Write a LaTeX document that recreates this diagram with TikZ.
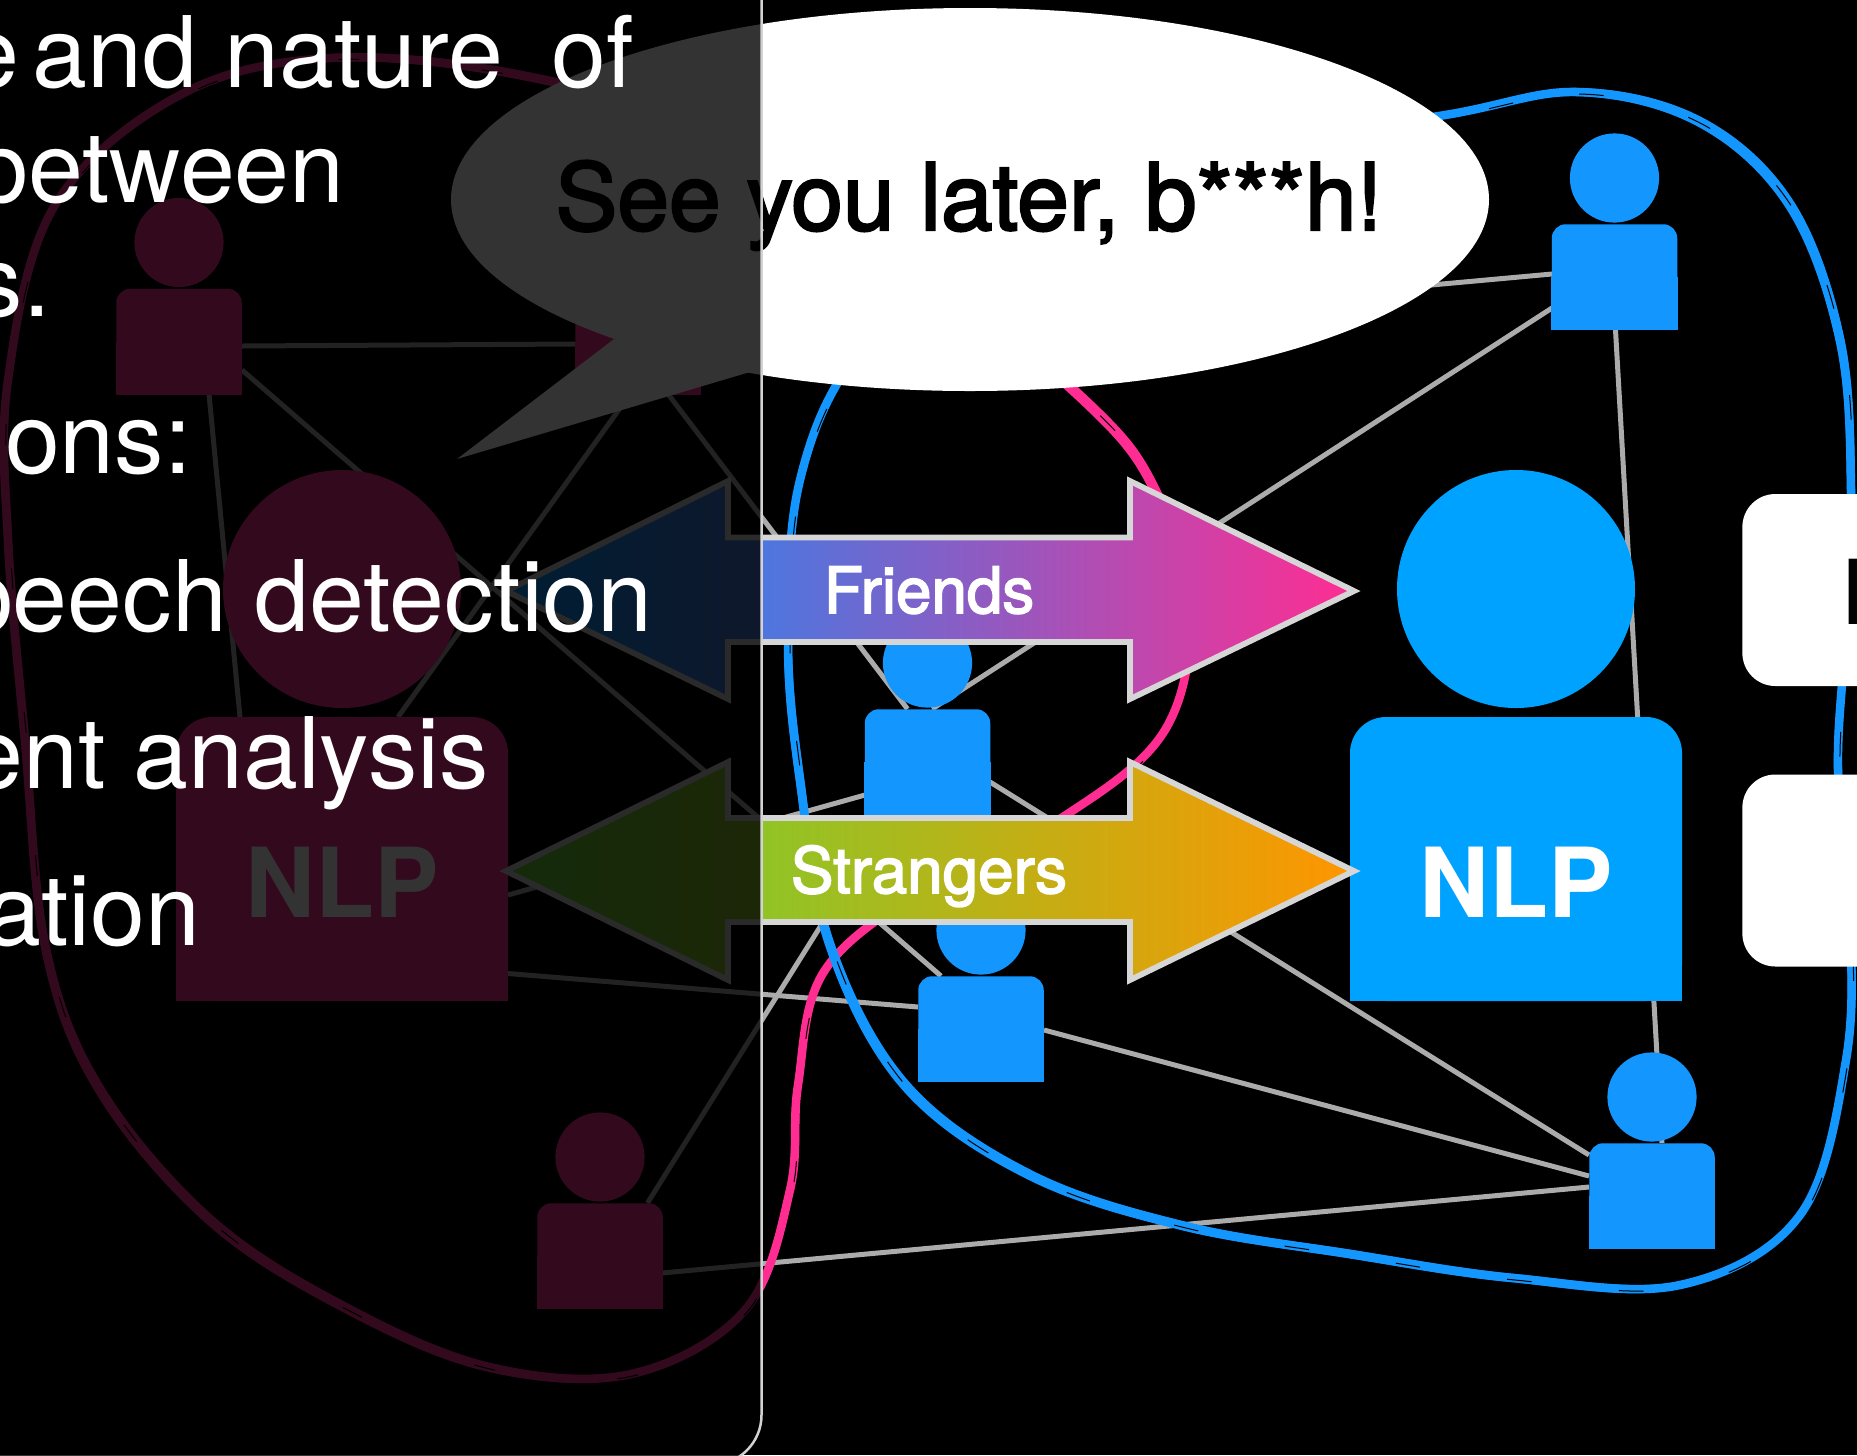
\documentclass[tikz,border=0pt]{standalone}
\usepackage{fontspec}
\setmainfont{TeX Gyre Heros}
\newfontfamily\medfont[FakeBold=2.5]{TeX Gyre Heros}
\usetikzlibrary{shapes.geometric}
\definecolor{pinkc}{HTML}{FF2D92}
\definecolor{smallblue}{HTML}{1496FF}
\definecolor{bigblue}{HTML}{00A2FF}
\definecolor{edgegrey}{HTML}{ABABAB}
\definecolor{arrowline}{HTML}{D6D6D6}
\definecolor{fromblue}{HTML}{0096FF}
\definecolor{fromgreen}{HTML}{61D836}
\definecolor{toorange}{HTML}{FF9500}
\definecolor{paneledge}{HTML}{D2D2D2}
\tikzset{
  headshape/.style={circle,inner sep=0pt,minimum size=89.2*0.02cm},
  bodyshape/.style={rectangle,inner sep=0pt,minimum width=125.5*0.02cm,minimum height=105.5*0.02cm,rounded corners=0.28cm},
  bighead/.style={circle,inner sep=0pt,minimum size=238*0.02cm},
  bigbody/.style={rectangle,inner sep=0pt,minimum width=332*0.02cm,minimum height=284*0.02cm,rounded corners=0.72cm},
  edgeline/.style={draw=edgegrey,line width=0.1cm},
  bigarrow/.style={draw=arrowline,line width=0.115cm,miter limit=10},
  bigtext/.style={inner sep=0pt,anchor=base east,text=white,font=\fontsize{56.2}{60}\selectfont},
  nlptext/.style={inner sep=0pt,font=\fontsize{55}{60}\selectfont\bfseries},
  arrowtext/.style={inner sep=0pt,anchor=base,text=white,font=\medfont\fontsize{36.3}{40}\selectfont},
  whitebox/.style={rectangle,fill=white,inner sep=0pt,rounded corners=0.66cm,minimum width=300*0.02cm,minimum height=192*0.02cm},
}
\newcommand\persona[4]{%
  \node[headshape,fill=#4] (#1h) at (#2,#3-99) {};
  \node[bodyshape,fill=#4] (#1) at (#2,#3) {};
  \fill[#4] (#1.south west) rectangle (#1.east);
}
\newcommand\bigperson[4]{%
  \node[bighead,fill=#4] (#1h) at (#2,589) {};
  \node[bigbody,fill=#4] (#1) at (#2,859) {};
  \fill[#4] (#1.south west) rectangle (#1.east);
}
\newcommand\bluecurve{plot[smooth cycle,tension=0.6] coordinates {
 (1439,116) (1577,92) (1700,122) (1790,205) (1840,340) (1851,490) (1845,640) (1838,770)
 (1850,920) (1846,1060) (1800,1215) (1680,1285) (1513,1278) (1350,1254) (1184,1226)
 (1030,1175) (905,1085) (830,945) (800,780) (788,640) (800,480) (860,350) (1000,220) (1200,150)}}
\newcommand\pinkcurve{plot[smooth cycle,tension=0.6] coordinates {
 (1084,400) (1155,490) (1190,610) (1165,730) (1066,815) (930,885) (825,970) (798,1085)
 (790,1190) (745,1310) (631,1374) (488,1367) (344,1307) (210,1220) (100,1090) (46,950)
 (25,740) (8,540) (8,380) (55,205) (180,95) (330,58) (520,75) (700,130) (900,250)}}
\begin{document}
\begin{tikzpicture}[x=0.02cm,y=-0.02cm]
\useasboundingbox[fill=black] (0,0) rectangle (1857,1455);

% persons positions (nodes first, so edges can refer to them); drawn again on top
\begin{scope}[opacity=0]
\persona{p1}{179}{341.5}{black}
\persona{p2}{638}{341.5}{black}
\persona{p3}{927.5}{762}{black}
\persona{p4}{981}{1029}{black}
\persona{p5}{1614.5}{277}{black}
\persona{p6}{1652}{1196}{black}
\persona{p7}{600}{1256}{black}
\bigperson{bl}{342}{859}{black}
\bigperson{br}{1516}{859}{black}
\end{scope}

% edges
\draw[edgeline] ([shift={(63,4.5)}]p1.center) -- ([shift={(-63,2.5)}]p2.center);
\draw[edgeline] ([shift={(63,28.5)}]p1.center) -- ([shift={(-40,-53)}]p4.center);
\draw[edgeline] ([shift={(30,52.5)}]p1.center) -- ([shift={(-102,-142)}]bl.center);
\draw[edgeline] ([shift={(-6,50)}]p2.center) -- ([shift={(56,-142)}]bl.center);
\draw[edgeline] ([shift={(30,52.5)}]p2.center) -- ([shift={(-20,-53)}]p3.center);
\draw[edgeline] ([shift={(4.5,-53)}]p3.center) -- ([shift={(-62.5,31)}]p5.center);
\draw[edgeline] ([shift={(-62.5,-3)}]p5.center) -- ([shift={(62,10)}]p2.center);
\draw[edgeline] ([shift={(1,53)}]p5.center) -- ([shift={(10,-53)}]p6.center);
\draw[edgeline] ([shift={(62.5,20)}]p3.center) -- ([shift={(-63,-41)}]p6.center);
\draw[edgeline] ([shift={(63,1)}]p4.center) -- ([shift={(-63,-20)}]p6.center);
\draw[edgeline] ([shift={(62,17)}]p7.center) -- ([shift={(-63,-9)}]p6.center);
\draw[edgeline] ([shift={(166,114.5)}]bl.center) -- ([shift={(-63,-22)}]p4.center);
\draw[edgeline] ([shift={(47.5,-53)}]p7.center) -- ([shift={(-37.5,53)}]p3.center);
\draw[edgeline] ([shift={(166,36)}]bl.center) -- ([shift={(-62.5,33)}]p3.center);

% hand-drawn group outlines
\draw[pinkc,line width=0.17cm] \pinkcurve;
\draw[pinkc,line width=0.04cm,shift={(3,-3)}] \pinkcurve;
\draw[pinkc,line width=0.04cm,shift={(-3,3)}] \pinkcurve;
\draw[black,line width=0.02cm,dash pattern=on 12pt off 70pt,shift={(2,2)}] \pinkcurve;
\draw[smallblue,line width=0.17cm] \bluecurve;
\draw[smallblue,line width=0.04cm,shift={(3,-3)}] \bluecurve;
\draw[smallblue,line width=0.04cm,shift={(-3,3)}] \bluecurve;
\draw[black,line width=0.02cm,dash pattern=on 14pt off 50pt,shift={(2,2)}] \bluecurve;

% persons
\persona{p1}{179}{341.5}{pinkc}
\persona{p2}{638}{341.5}{pinkc}
\persona{p7}{600}{1256}{pinkc}
\persona{p3}{927.5}{762}{smallblue}
\persona{p4}{981}{1029}{smallblue}
\persona{p5}{1614.5}{277}{smallblue}
\persona{p6}{1652}{1196}{smallblue}
\bigperson{bl}{342}{859}{pinkc}
\bigperson{br}{1516}{859}{bigblue}
\node[nlptext,text=white] (nlpl) at (342,882) {NLP};
\node[nlptext,text=white] (nlpr) at (1516,882) {NLP};

% double arrows
\path[bigarrow,left color=fromblue,right color=pinkc]
  (506,591) -- (728,481) -- (728,537.5) -- (1130,537.5) -- (1130,481) -- (1354,591)
  -- (1130,699) -- (1130,642) -- (728,642) -- (728,699) -- cycle;
\path[bigarrow,left color=fromgreen,right color=toorange]
  (506,871) -- (728,762) -- (728,818) -- (1130,818) -- (1130,762) -- (1354,871)
  -- (1130,980) -- (1130,922) -- (728,922) -- (728,980) -- cycle;
\node[arrowtext] (friends) at (929,613) {Friends};
\node[arrowtext] (strangers) at (929,893) {Strangers};

% speech bubble
\node[ellipse,fill=white,inner sep=0pt,minimum width=1038*0.02cm,minimum height=383*0.02cm] (bub) at (970,199.5) {};
\coordinate (tailtip) at (457,459);
\fill[white] ([shift={(-356,139.5)}]bub.center) -- (tailtip) -- ([shift={(-220,172.5)}]bub.center) -- cycle;
\node[inner sep=0pt,anchor=base,text=black,font=\medfont\fontsize{52.9}{56}\selectfont] (say) at (969,230) {See you later, b***h!};

% boxes at the right edge
\node[whitebox,anchor=west] (box1) at (1742,590) {};
\node[whitebox,anchor=west] (box2) at (1742,870.5) {};
\node[inner sep=0pt,anchor=base west,text=black,font=\fontsize{51}{56}\selectfont\bfseries] (boxletter) at (1843,624) {I};

% dimming panel
\path[fill=black,fill opacity=0.8,draw=paneledge,line width=0.05cm,rounded corners=1cm]
  (-100,-100) rectangle (761.5,1465);

% panel text
\node[bigtext] (t1) at (634,87) {e\hspace{-8pt}\ and nature\ \ \hspace{-4pt}of};
\node[bigtext] (t2) at (345,202) {between};
\node[bigtext] (t3) at (51,316) {s.};
\node[bigtext] (t4) at (192,473) {ions:};
\node[bigtext] (t5) at (653,631) {peech detection};
\node[bigtext] (t6) at (489,788) {ent analysis};
\node[bigtext] (t7) at (201,945.5) {ation};
\end{tikzpicture}
\end{document}
